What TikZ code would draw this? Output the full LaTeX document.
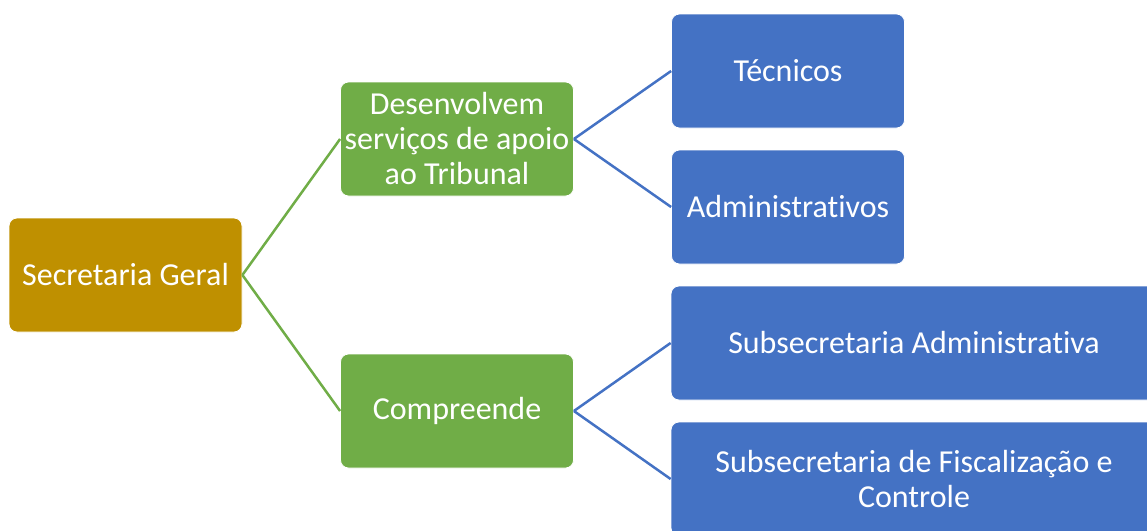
\documentclass[tikz,border=0pt]{standalone}
\usepackage{fontspec}
\setmainfont[Ligatures={NoCommon}]{Carlito}
\definecolor{goldbox}{HTML}{BF9000}
\definecolor{greenbox}{HTML}{70AD47}
\definecolor{bluebox}{HTML}{4472C4}
\tikzset{
  orgbox/.style={rounded corners=8pt, draw=white, line width=0.8pt, text=white,
    minimum width=233pt, minimum height=114pt, align=center, inner sep=2pt,
    font=\fontsize{32}{35}\selectfont},
  rootbox/.style={orgbox, fill=goldbox},
  midbox/.style={orgbox, fill=greenbox},
  leafbox/.style={orgbox, fill=bluebox},
  widebox/.style={leafbox, minimum width=486pt},
  greenlink/.style={draw=greenbox, line width=2.5pt},
  bluelink/.style={draw=bluebox, line width=2.5pt}
}
\begin{document}
\begin{tikzpicture}[x=1pt,y=-1pt]
\useasboundingbox (0,0) rectangle (1147,530);
\clip (0,0) rectangle (1147,530);

% hierarchy boxes
\node[rootbox] (sg) at (125.5,275) {Secretaria Geral};
\node[midbox] (dev) at (457,139) {Desenvolvem\\serviços de apoio\\ao Tribunal};
\node[midbox] (comp) at (457,411) {Compreende};
\node[leafbox] (tec) at (788,71) {Técnicos};
\node[leafbox] (adm) at (788,207) {Administrativos};
\node[widebox] (subadm) at (914,343) {Subsecretaria Administrativa};
\node[widebox] (subfis) at (914,479) {Subsecretaria de Fiscalização e\\Controle};

% connectors
\draw[greenlink] (sg.east) -- (dev.west);
\draw[greenlink] (sg.east) -- (comp.west);
\draw[bluelink] (dev.east) -- (tec.west);
\draw[bluelink] (dev.east) -- (adm.west);
\draw[bluelink] (comp.east) -- (subadm.west);
\draw[bluelink] (comp.east) -- (subfis.west);
\end{tikzpicture}
\end{document}
